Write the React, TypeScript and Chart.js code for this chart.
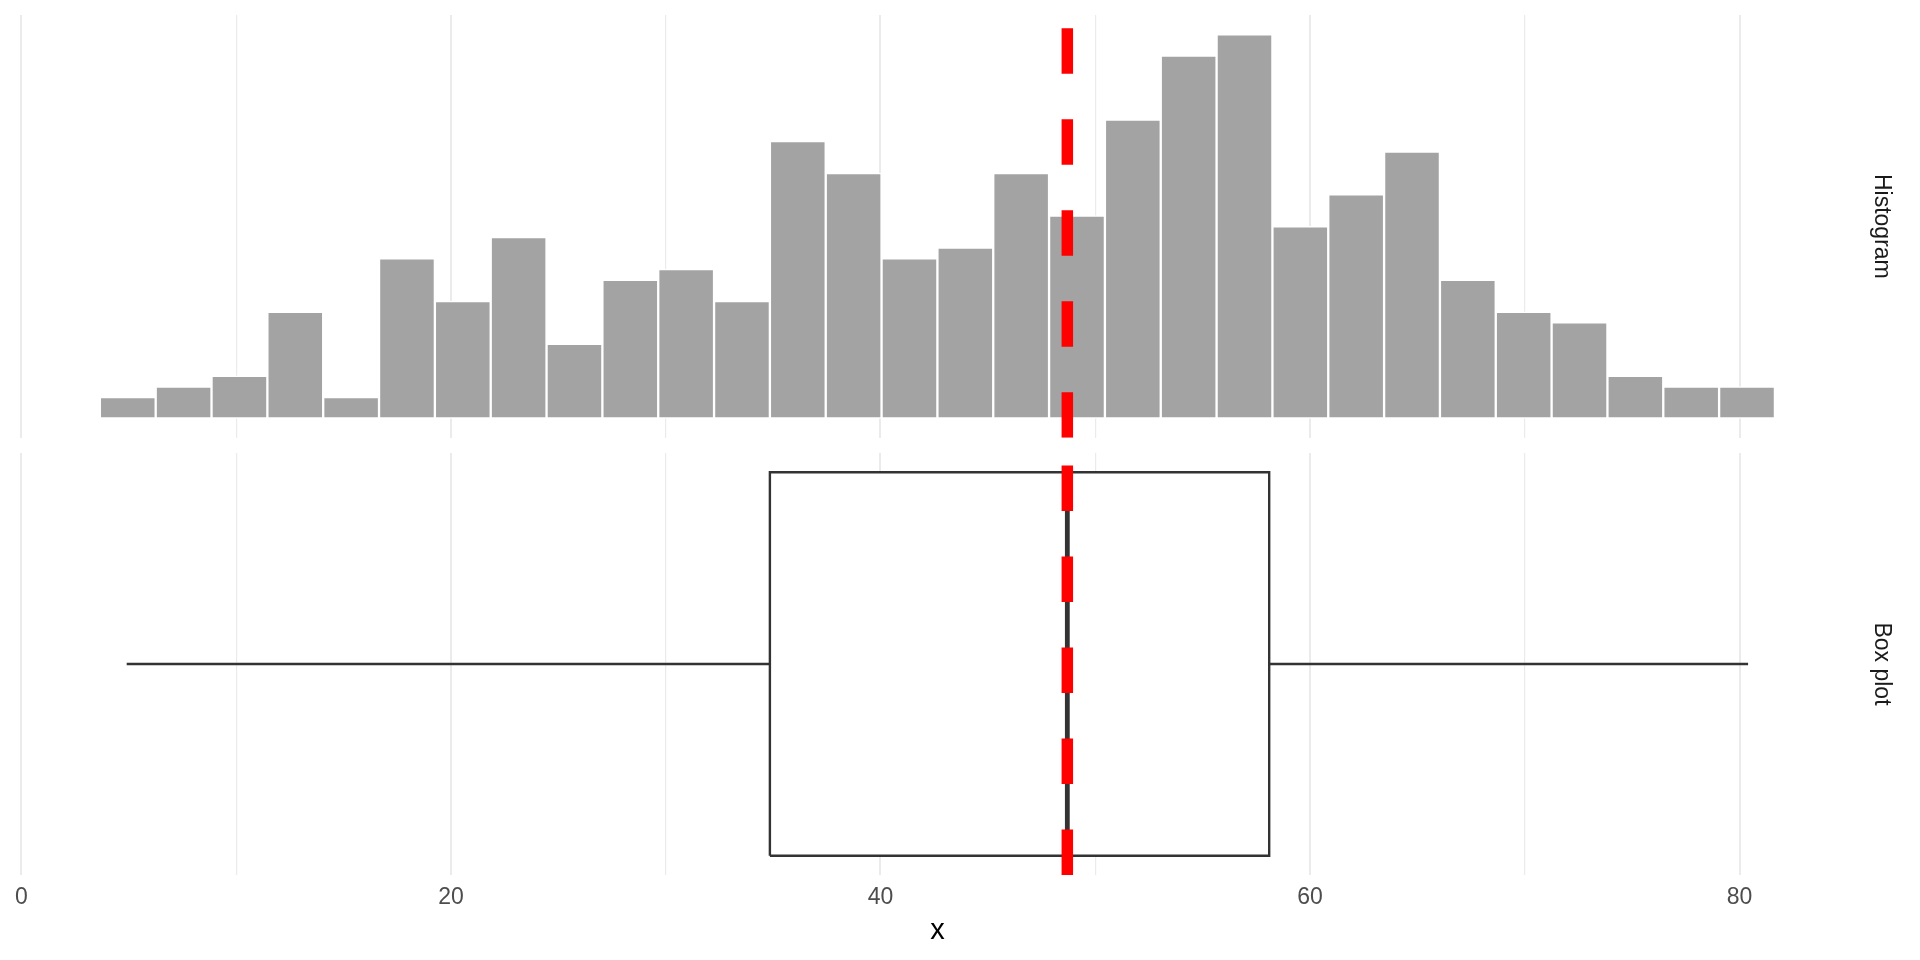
import React, { useEffect, useRef } from "react";
import { Chart, registerables } from "chart.js";

Chart.register(...registerables);

// ---- Data ----
const binCenters = [
  4.95, 7.55, 10.15, 12.75, 15.35, 17.95, 20.55, 23.15, 25.75, 28.35,
  30.95, 33.55, 36.15, 38.75, 41.35, 43.95, 46.55, 49.15, 51.75, 54.35,
  56.95, 59.55, 62.15, 64.75, 67.35, 69.95, 72.55, 75.15, 77.75, 80.35,
];
const binCounts = [
  2, 3, 4, 10, 2, 15, 11, 17, 7, 13,
  14, 11, 26, 23, 15, 16, 23, 19, 28, 34,
  36, 18, 21, 25, 13, 10, 9, 4, 3, 3,
];
const xTickValues = [0, 10, 20, 30, 40, 50, 60, 70, 80];
const boxQuartiles = [34.85, 58.1];
const boxMedian = [48.7];
const whiskerEnds = [4.9, 80.4];
const meanValue = [48.7];
const facetLabels = ["Histogram", "Box plot"];
const xAxisTitle = "x";

// ---- Scale limits (ggplot-style 5% expansion) ----
const X_MIN = -0.25;
const X_MAX = 85.55;
const HIST_Y_MIN = -1.8;
const HIST_Y_MAX = 37.8;
const BOX_HALF = 0.375;
const BOX_Y_MIN = -0.4125;
const BOX_Y_MAX = 0.4125;

const GRID_COLOR = "#ebebeb";
const FONT_FAMILY = "'Liberation Sans', Arial, Helvetica, sans-serif";

function xScale(showLabels: boolean, height: number): any {
  return {
    type: "linear",
    min: X_MIN,
    max: X_MAX,
    offset: false,
    afterBuildTicks: (s: any) => {
      s.ticks = xTickValues.map((v) => ({ value: v }));
    },
    afterFit: (s: any) => {
      s.height = height;
    },
    ticks: {
      display: showLabels,
      autoSkip: false,
      maxRotation: 0,
      padding: 8.8,
      color: "#4d4d4d",
      font: { family: FONT_FAMILY, size: 23 },
      callback: (v: any) => (Number(v) % 20 === 0 ? String(v) : ""),
    },
    grid: {
      offset: false,
      color: GRID_COLOR,
      drawTicks: false,
      lineWidth: (ctx: any) =>
        ctx.tick && Number(ctx.tick.value) % 20 === 0 ? 2 : 1.2,
    },
    border: { display: false },
    title: {
      display: showLabels,
      text: xAxisTitle,
      color: "#000000",
      font: { family: FONT_FAMILY, size: 29 },
      padding: { top: 0, bottom: 11.5 },
    },
  };
}

function facetScale(label: string, min: number, max: number): any {
  return {
    type: "linear",
    position: "right",
    min,
    max,
    afterFit: (s: any) => {
      s.width = 61.3;
    },
    ticks: { display: false },
    grid: { display: false },
    border: { display: false },
    title: {
      display: true,
      text: label,
      color: "#1a1a1a",
      font: { family: FONT_FAMILY, size: 23 },
      padding: { top: 25.2, bottom: 0 },
    },
  };
}

function meanLine(yMin: number, yMax: number): any {
  return {
    type: "line",
    data: [
      { x: meanValue[0], y: yMin },
      { x: meanValue[0], y: yMax },
    ],
    borderColor: "#ff0000",
    borderWidth: 11.5,
    borderDash: [45.4, 45.6],
    borderCapStyle: "butt",
    pointRadius: 0,
    fill: false,
    order: 0,
  };
}

const baseOptions = {
  animation: false,
  responsive: false,
  devicePixelRatio: 1,
  events: [],
  plugins: { legend: { display: false }, tooltip: { enabled: false } },
};

export default function App() {
  const topRef = useRef<HTMLCanvasElement | null>(null);
  const botRef = useRef<HTMLCanvasElement | null>(null);

  useEffect(() => {
    const top = new Chart(topRef.current as HTMLCanvasElement, {
      type: "bar",
      data: {
        datasets: [
          meanLine(HIST_Y_MIN, HIST_Y_MAX),
          {
            type: "bar",
            data: binCenters.map((x, i) => ({ x, y: binCounts[i] })),
            backgroundColor: "#a3a3a3",
            borderColor: "#ffffff",
            borderWidth: 1.5,
            borderSkipped: false,
            barPercentage: 1,
            categoryPercentage: 1,
            order: 1,
          },
        ],
      } as any,
      options: {
        ...baseOptions,
        layout: { padding: { top: 15, left: 16.1, right: 0, bottom: 0 } },
        scales: {
          x: xScale(false, 15.3),
          y: facetScale(facetLabels[0], HIST_Y_MIN, HIST_Y_MAX),
        },
      } as any,
    });

    const lineStyle = {
      type: "line",
      borderColor: "#333333",
      borderWidth: 2.4,
      pointRadius: 0,
      borderCapStyle: "butt",
      borderJoinStyle: "miter",
      fill: false,
    };

    const bottom = new Chart(botRef.current as HTMLCanvasElement, {
      type: "line",
      data: {
        datasets: [
          meanLine(BOX_Y_MIN, BOX_Y_MAX),
          {
            ...lineStyle,
            data: [
              { x: boxMedian[0], y: -BOX_HALF },
              { x: boxMedian[0], y: BOX_HALF },
            ],
            borderWidth: 4.8,
            order: 1,
          },
          {
            ...lineStyle,
            data: [
              { x: boxQuartiles[0], y: -BOX_HALF },
              { x: boxQuartiles[1], y: -BOX_HALF },
              { x: boxQuartiles[1], y: BOX_HALF },
              { x: boxQuartiles[0], y: BOX_HALF },
              { x: boxQuartiles[0], y: -BOX_HALF },
            ],
            fill: "shape",
            backgroundColor: "#ffffff",
            order: 2,
          },
          {
            ...lineStyle,
            data: [
              { x: whiskerEnds[0], y: 0 },
              { x: boxQuartiles[0], y: 0 },
            ],
            order: 3,
          },
          {
            ...lineStyle,
            data: [
              { x: boxQuartiles[1], y: 0 },
              { x: whiskerEnds[1], y: 0 },
            ],
            order: 3,
          },
        ],
      } as any,
      options: {
        ...baseOptions,
        layout: { padding: { top: 0, left: 16.1, right: 0, bottom: 0 } },
        scales: {
          x: xScale(true, 85),
          y: facetScale(facetLabels[1], BOX_Y_MIN, BOX_Y_MAX),
        },
      } as any,
    });

    return () => {
      top.destroy();
      bottom.destroy();
    };
  }, []);

  return (
    <div
      style={{
        position: "absolute",
        left: 0,
        top: 0,
        width: 1920,
        height: 960,
        background: "#ffffff",
      }}
    >
      <canvas
        ref={topRef}
        width={1920}
        height={453}
        style={{ position: "absolute", left: 0, top: 0, width: 1920, height: 453 }}
      />
      <canvas
        ref={botRef}
        width={1920}
        height={507}
        style={{ position: "absolute", left: 0, top: 453, width: 1920, height: 507 }}
      />
    </div>
  );
}
